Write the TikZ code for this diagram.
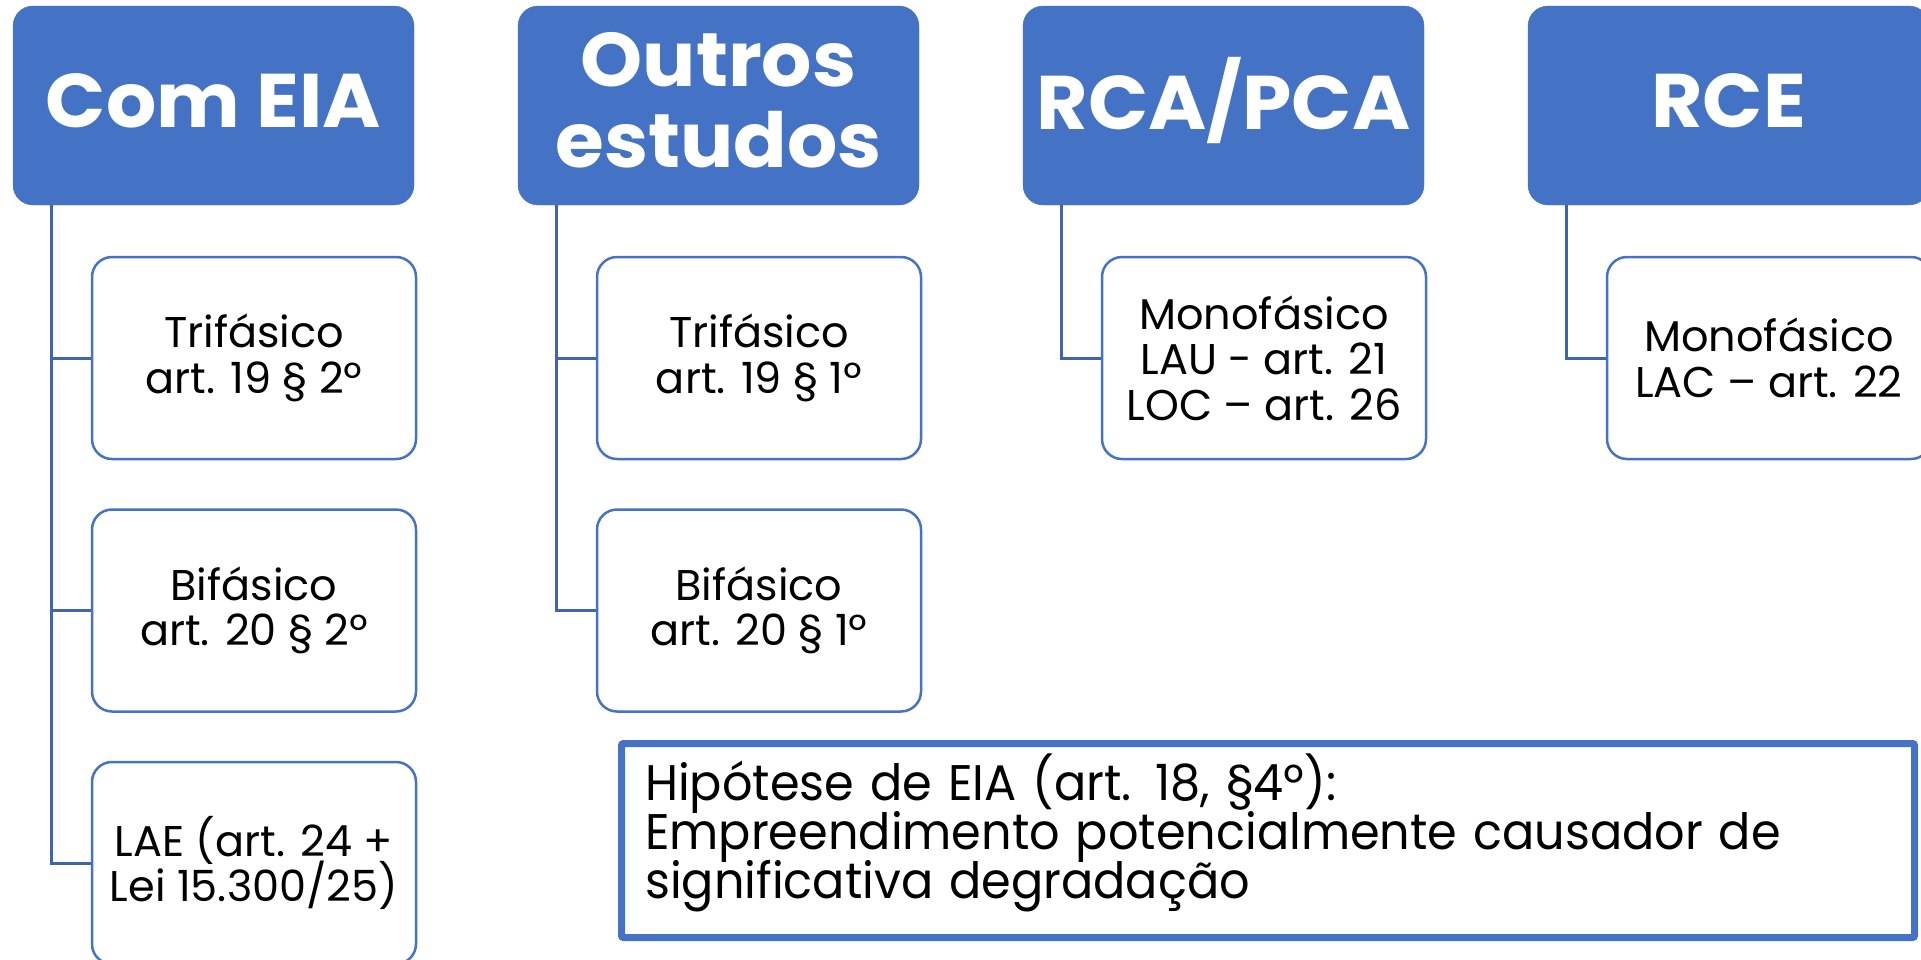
\documentclass[tikz,border=0pt]{standalone}
\usepackage{graphicx}
\usepackage{fontspec}
\setmainfont{Poppins}
\definecolor{hdr}{HTML}{4472C4}
\definecolor{connc}{HTML}{3F65AE}
\newcommand{\sqz}[1]{\scalebox{0.955}[1]{#1}}
\newcommand{\wid}[1]{\scalebox{1.04}[1]{#1}}
\tikzset{
  hdrbox/.style={fill=hdr, draw=hdr, rounded corners=20pt, minimum width=401pt, minimum height=199pt, inner sep=0pt},
  hdrtext/.style={text=white, inner sep=0pt, align=center, font={\bfseries\fontsize{76}{81}\selectfont\lineskiplimit=-100pt}},
  childbox/.style={draw=hdr, line width=2.5pt, fill=white, rounded corners=20pt, minimum width=324pt, minimum height=202pt, inner sep=0pt, align=center, font={\fontsize{43}{45.5}\selectfont\lineskiplimit=-100pt}},
  connline/.style={draw=connc, line width=3pt},
  notebox/.style={draw=hdr, line width=7pt, rounded corners=2pt, minimum width=1293pt, minimum height=194pt, inner sep=0pt},
  notetext/.style={inner sep=0pt, text width=1260pt, align=left, font={\fontsize{50}{49}\selectfont\lineskiplimit=-100pt}}
}
\begin{document}
\begin{tikzpicture}[x=1pt,y=-1pt]
\useasboundingbox (0,0) rectangle (1921,959);
\clip (0,0) rectangle (1921,959);
% headers
\node[hdrbox] (h1) at (213.5,105.5) {};
\node[hdrbox] (h2) at (718.5,105.5) {};
\node[hdrbox] (h3) at (1223.5,105.5) {};
\node[hdrbox] (h4) at (1728.5,105.5) {};
\node[hdrtext] (t1) at ([yshift=5pt]h1.center) {\wid{Com EIA}};
\node[hdrtext] (t2) at ([yshift=5pt]h2.center) {\wid{Outros}\\\wid{estudos}};
\node[hdrtext] (t3) at ([yshift=5pt]h3.center) {\wid{RCA/PCA}};
\node[hdrtext] (t4) at ([yshift=5pt]h4.center) {\wid{RCE}};
% connector tops
\coordinate (v1) at ([xshift=39pt]h1.south west);
\coordinate (v2) at ([xshift=39pt]h2.south west);
\coordinate (v3) at ([xshift=39pt]h3.south west);
\coordinate (v4) at ([xshift=39pt]h4.south west);
% child boxes
\node[childbox] (c11) at (254,358) {Trifásico\\art. 19 § 2º};
\node[childbox] (c12) at (254,610.5) {Bifásico\\art. 20 § 2º};
\node[childbox] (c13) at (254,863) {LAE (art. 24 +\\Lei 15.300/25)};
\node[childbox] (c21) at (759,358) {Trifásico\\art. 19 § 1º};
\node[childbox] (c22) at (759,610.5) {Bifásico\\art. 20 § 1º};
\node[childbox] (c31) at (1264,358) {Monofásico\\LAU - art. 21\\LOC – art. 26};
\node[childbox] (c41) at (1769,358) {Monofásico\\LAC – art. 22};
% connectors
\draw[connline] (v1) |- (c13.west);
\draw[connline] (v1 |- c11.west) -- (c11.west);
\draw[connline] (v1 |- c12.west) -- (c12.west);
\draw[connline] (v2) |- (c22.west);
\draw[connline] (v2 |- c21.west) -- (c21.west);
\draw[connline] (v3) |- (c31.west);
\draw[connline] (v4) |- (c41.west);
% note
\node[notebox] (note) at (1268,840.5) {};
\node[notetext, anchor=base west] (nt) at ([xshift=-623pt, yshift=40.5pt]note.center) {\sqz{Hipótese de EIA (art. 18, §4º):}\\\sqz{Empreendimento potencialmente causador de}\\\sqz{significativa degradação}};
\end{tikzpicture}
\end{document}
